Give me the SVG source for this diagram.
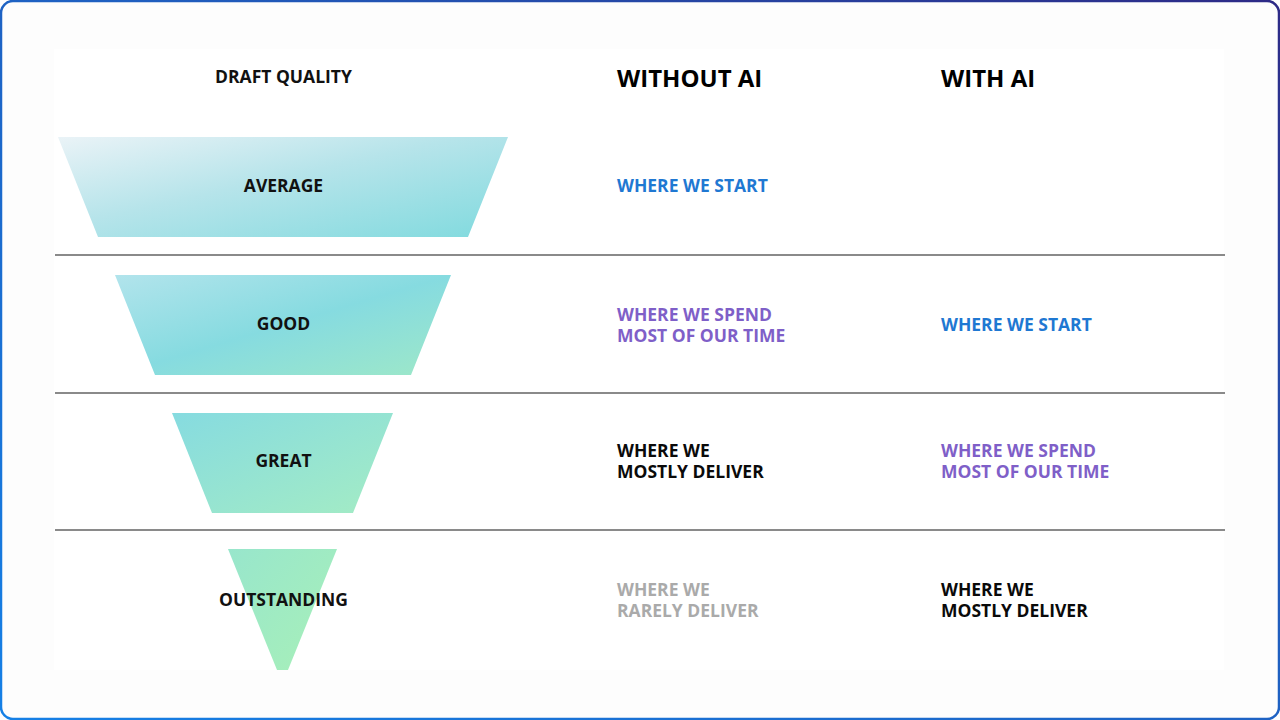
<svg xmlns="http://www.w3.org/2000/svg" width="1280" height="720" viewBox="0 0 1280 720">
  <defs>
    <linearGradient id="frame" x1="0" y1="1" x2="1" y2="0">
      <stop offset="0" stop-color="#1580e6"/>
      <stop offset="0.55" stop-color="#1f5fc0"/>
      <stop offset="1" stop-color="#2d2a86"/>
    </linearGradient>
    <linearGradient id="gAvg" x1="0" y1="0" x2="1" y2="1">
      <stop offset="0" stop-color="#eaf3f7"/>
      <stop offset="0.45" stop-color="#b6e4ea"/>
      <stop offset="1" stop-color="#80dade"/>
    </linearGradient>
    <linearGradient id="gGood" x1="0" y1="0" x2="1" y2="1">
      <stop offset="0" stop-color="#b2e4ec"/>
      <stop offset="0.5" stop-color="#86dbe0"/>
      <stop offset="1" stop-color="#9ee8c8"/>
    </linearGradient>
    <linearGradient id="gGreat" x1="0" y1="0" x2="1" y2="1">
      <stop offset="0" stop-color="#86dbe0"/>
      <stop offset="1" stop-color="#a4ecc4"/>
    </linearGradient>
    <linearGradient id="gOut" x1="0" y1="0" x2="1" y2="1">
      <stop offset="0" stop-color="#98e6cc"/>
      <stop offset="1" stop-color="#a8f0b8"/>
    </linearGradient>
    <style>
      text { font-family: "Open Sans", "Liberation Sans", sans-serif; font-weight: 700; }
      .lbl { font-size: 17.5px; fill: #111; }
      .head { font-size: 24px; fill: #000; }
      .blue { fill: #1f78d2; }
      .purple { fill: #7f5fc8; }
      .black { fill: #0a0a0a; }
      .gray { fill: #aaaaaa; }
      .cell { font-size: 17.5px; }
      .rule { stroke: #8a8a8a; stroke-width: 2; }
    </style>
  </defs>

  <rect x="0" y="0" width="1280" height="720" fill="#fdfdfd"/>
  <rect x="54" y="49" width="1170" height="621" fill="#ffffff"/>
  <rect x="1" y="1" width="1278" height="718" rx="12" ry="12" fill="none" stroke="url(#frame)" stroke-width="2.5"/>

  <g id="connectors">
    <line class="rule" x1="55" y1="255" x2="1225" y2="255"/>
    <line class="rule" x1="55" y1="393" x2="1225" y2="393"/>
    <line class="rule" x1="55" y1="530" x2="1225" y2="530"/>
  </g>

  <g id="headers">
    <text class="lbl" x="283.5" y="83" text-anchor="middle">DRAFT QUALITY</text>
    <text class="head" x="617" y="87">WITHOUT AI</text>
    <text class="head" x="941" y="87">WITH AI</text>
  </g>

  <g id="average">
    <polygon points="58,137 508,137 468,237 98,237" fill="url(#gAvg)"/>
    <text class="lbl" x="283.5" y="192" text-anchor="middle">AVERAGE</text>
  </g>
  <g id="good">
    <polygon points="115,275 451,275 411,375 155,375" fill="url(#gGood)"/>
    <text class="lbl" x="283.5" y="330" text-anchor="middle">GOOD</text>
  </g>
  <g id="great">
    <polygon points="172,413 393,413 353,513 212,513" fill="url(#gGreat)"/>
    <text class="lbl" x="283.5" y="467" text-anchor="middle">GREAT</text>
  </g>
  <g id="outstanding">
    <polygon points="228,549 337,549 288,670 277,670" fill="url(#gOut)"/>
    <text class="lbl" x="283.5" y="606" text-anchor="middle">OUTSTANDING</text>
  </g>

  <g id="without-ai">
    <text class="cell blue" x="617" y="192">WHERE WE START</text>
    <text class="cell purple" x="617" y="321">WHERE WE SPEND<tspan x="617" y="342">MOST OF OUR TIME</tspan></text>
    <text class="cell black" x="617" y="457">WHERE WE<tspan x="617" y="478">MOSTLY DELIVER</tspan></text>
    <text class="cell gray" x="617" y="596">WHERE WE<tspan x="617" y="617">RARELY DELIVER</tspan></text>
  </g>

  <g id="with-ai">
    <text class="cell blue" x="941" y="331">WHERE WE START</text>
    <text class="cell purple" x="941" y="457">WHERE WE SPEND<tspan x="941" y="478">MOST OF OUR TIME</tspan></text>
    <text class="cell black" x="941" y="596">WHERE WE<tspan x="941" y="617">MOSTLY DELIVER</tspan></text>
  </g>
</svg>
